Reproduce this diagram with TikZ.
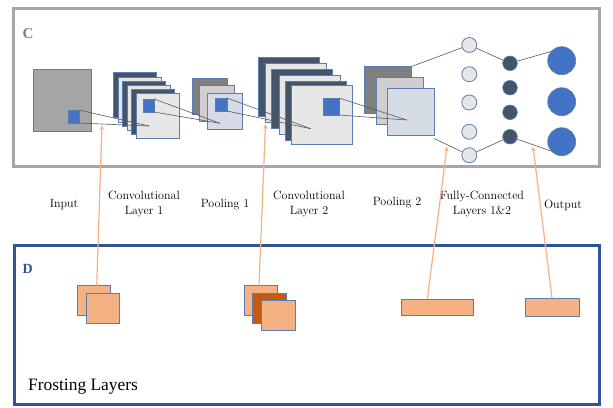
\documentclass[tikz,border=0pt]{standalone}
\usepackage{fontspec}
\newfontfamily\tnr{Liberation Serif}
\usetikzlibrary{arrows.meta,calc}
\definecolor{frameC}{HTML}{A6A6A6}
\definecolor{frameD}{HTML}{2F5597}
\definecolor{edgeblue}{HTML}{5B7DB1}
\definecolor{cNavy}{HTML}{44546A}
\definecolor{cLight}{HTML}{E7E6E6}
\definecolor{cInput}{HTML}{A5A5A5}
\definecolor{cDarkGray}{HTML}{7F7F7F}
\definecolor{cMidGray}{HTML}{D0CECE}
\definecolor{cPaleBlue}{HTML}{D6DCE5}
\definecolor{cBlue}{HTML}{4472C4}
\definecolor{cSalmon}{HTML}{F4B183}
\definecolor{cRust}{HTML}{C55A11}
\definecolor{cLine}{HTML}{595959}
\definecolor{cLabelC}{HTML}{808080}
\begin{document}
\begin{tikzpicture}[x=1pt,y=-1pt,
  sq/.style={draw=edgeblue, line width=0.8pt, inner sep=0pt, outer sep=0pt, anchor=north west},
  conv1/.style={sq, minimum width=43pt, minimum height=45pt},
  pool1/.style={sq, minimum width=35pt, minimum height=36pt},
  conv2/.style={sq, minimum width=61pt, minimum height=59pt},
  pool2/.style={sq, minimum width=47pt, minimum height=47pt},
  dark/.style={fill=cNavy},
  light/.style={fill=cLight},
  kern/.style={sq, fill=cBlue},
  conn/.style={draw=cLine, line width=0.6pt},
  fcone/.style={circle, draw=edgeblue, line width=0.8pt, fill=cLight, minimum size=15pt, inner sep=0pt},
  fctwo/.style={circle, draw=edgeblue, line width=0.6pt, fill=cNavy, minimum size=14.6pt, inner sep=0pt},
  outc/.style={circle, draw=edgeblue, line width=0.6pt, fill=cBlue, minimum size=28pt, inner sep=0pt},
  lbl/.style={font=\fontsize{12}{15}\selectfont, align=center, inner sep=0pt},
  frost/.style={sq, fill=cSalmon, draw=edgeblue},
  frostarrow/.style={draw=cSalmon, line width=1.2pt, -{Stealth[length=5pt,width=4.5pt]}}
]
\useasboundingbox (0,0) rectangle (613,407);

% frames
\draw[frameC, line width=3pt] (13.8,8.8) rectangle (599.3,166.7);
\draw[frameD, line width=3pt] (14,245.7) rectangle (599.7,404);
\node[font=\tnr\bfseries\fontsize{15}{15}\selectfont, text=cLabelC, anchor=west, inner sep=0pt] (labC) at (22.5,33.5) {C};
\node[font=\tnr\bfseries\fontsize{14}{14}\selectfont, text=frameD, anchor=west, inner sep=0pt] (labD) at (22.5,268.5) {D};
\node[font=\tnr\fontsize{17.4}{18}\selectfont, anchor=west, inner sep=0pt] (frosting) at (28,386.5) {Frosting Layers};

% input
\node[sq, fill=cInput, minimum width=58pt, minimum height=62pt] (inp) at (33,69) {};
\node[kern, minimum width=11pt, minimum height=13pt] (k0) at (68,110) {};

% conv layer 1
\node[conv1, dark]  (c1a) at (113,72) {};
\node[conv1, light] (c1b) at (118,77) {};
\node[conv1, dark]  (c1c) at (122.5,81) {};
\node[conv1, light] (c1d) at (127.5,85.5) {};
\node[conv1, dark]  (c1e) at (131.5,89.5) {};
\node[conv1, light] (c1f) at (136,93.5) {};
\node[kern, minimum width=11pt, minimum height=13pt] (k1) at (143,99) {};

% pooling 1
\node[pool1, fill=cDarkGray] (p1a) at (192,78) {};
\node[pool1, fill=cMidGray]  (p1b) at (199.5,85.5) {};
\node[pool1, fill=cPaleBlue] (p1c) at (207.5,93.5) {};
\node[kern, minimum width=12pt, minimum height=13pt] (k2) at (215,98) {};

% conv layer 2
\node[conv2, dark]  (c2a) at (258.5,57) {};
\node[conv2, light] (c2b) at (265.5,63) {};
\node[conv2, dark]  (c2c) at (271.5,69) {};
\node[conv2, light] (c2d) at (279,75) {};
\node[conv2, dark]  (c2e) at (285,81) {};
\node[conv2, light] (c2f) at (291.5,85.5) {};
\node[kern, minimum width=16pt, minimum height=17pt] (k3) at (323,98) {};

% pooling 2
\node[pool2, fill=cDarkGray] (p2a) at (364.5,66.5) {};
\node[pool2, fill=cMidGray]  (p2b) at (376,77.5) {};
\node[pool2, fill=cPaleBlue] (p2c) at (387,88.5) {};

% receptive field connectors
\coordinate (r1) at (149,126);
\coordinate (r2) at (220,123.3);
\coordinate (r3) at (310.7,128.7);
\coordinate (r4) at (406.7,120);
\draw[conn] (k0.north east) -- (r1);
\draw[conn] (k0.south east) -- (r1);
\draw[conn] (k1.north east) -- (r2);
\draw[conn] (k1.south east) -- (r2);
\draw[conn] (k2.north east) -- (r3);
\draw[conn] (k2.south east) -- (r3);
\draw[conn] (k3.north east) -- (r4);
\draw[conn] (k3.south east) -- (r4);

% fully connected layers
\node[fcone] (f1a) at (469.3,45) {};
\node[fcone] (f1b) at (469.3,74.2) {};
\node[fcone] (f1c) at (469.3,102.5) {};
\node[fcone] (f1d) at (469.3,131.8) {};
\node[fcone] (f1e) at (469.3,155.2) {};
\node[fctwo] (f2a) at (510,63.3) {};
\node[fctwo] (f2b) at (510,87.7) {};
\node[fctwo] (f2c) at (510,112.3) {};
\node[fctwo] (f2d) at (510,136.7) {};
\node[outc] (o1) at (561.7,60.7) {};
\node[outc] (o2) at (561.7,101.7) {};
\node[outc] (o3) at (561.7,141.7) {};

\draw[conn] (p2a.north east) -- (f1a);
\draw[conn] ([yshift=-3pt]p2c.south east) -- (f1e);
\draw[conn] (f1a) -- (f2a);
\draw[conn] (f1e) -- (f2d);
\draw[conn] (f2a) -- (o1.140);
\draw[conn] (f2d) -- (o3.220);

% layer labels
\node[lbl] (tIn) at (64,205) {Input};
\node[lbl] (tC1) at (144,204) {Convolutional\\Layer 1};
\node[lbl] (tP1) at (225,205) {Pooling 1};
\node[lbl] (tC2) at (309,204) {Convolutional\\Layer 2};
\node[lbl] (tP2) at (397,203) {Pooling 2};
\node[lbl] (tFC) at (482,204) {Fully-Connected\\Layers 1\&2};
\node[lbl] (tOut) at (563,205) {Output};

% frosting layers
\node[frost, minimum width=33.4pt, minimum height=30pt] (fr1a) at (77.3,285.7) {};
\node[frost, minimum width=33.4pt, minimum height=30pt] (fr1b) at (86,293) {};
\node[frost, minimum width=33.4pt, minimum height=30pt] (fr2a) at (244.3,285.7) {};
\node[frost, fill=cRust, minimum width=34pt, minimum height=30pt] (fr2b) at (252.7,293) {};
\node[frost, minimum width=34pt, minimum height=30pt] (fr2c) at (261,300.7) {};
\node[frost, minimum width=72pt, minimum height=16.5pt] (fr3) at (401.7,299.3) {};
\node[frost, minimum width=54pt, minimum height=17.7pt] (fr4) at (525,298.3) {};

\coordinate (t1) at (102,125);
\coordinate (t2) at (265.5,124);
\coordinate (t3) at (447,146.5);
\coordinate (t4) at (533,146.5);
\draw[frostarrow] ([xshift=2.7pt]fr1a.north) -- (t1);
\draw[frostarrow] ([xshift=-2pt]fr2a.north) -- (t2);
\draw[frostarrow] ([xshift=-10.4pt]fr3.north) -- (t3);
\draw[frostarrow] (fr4.north) -- (t4);
\end{tikzpicture}
\end{document}
